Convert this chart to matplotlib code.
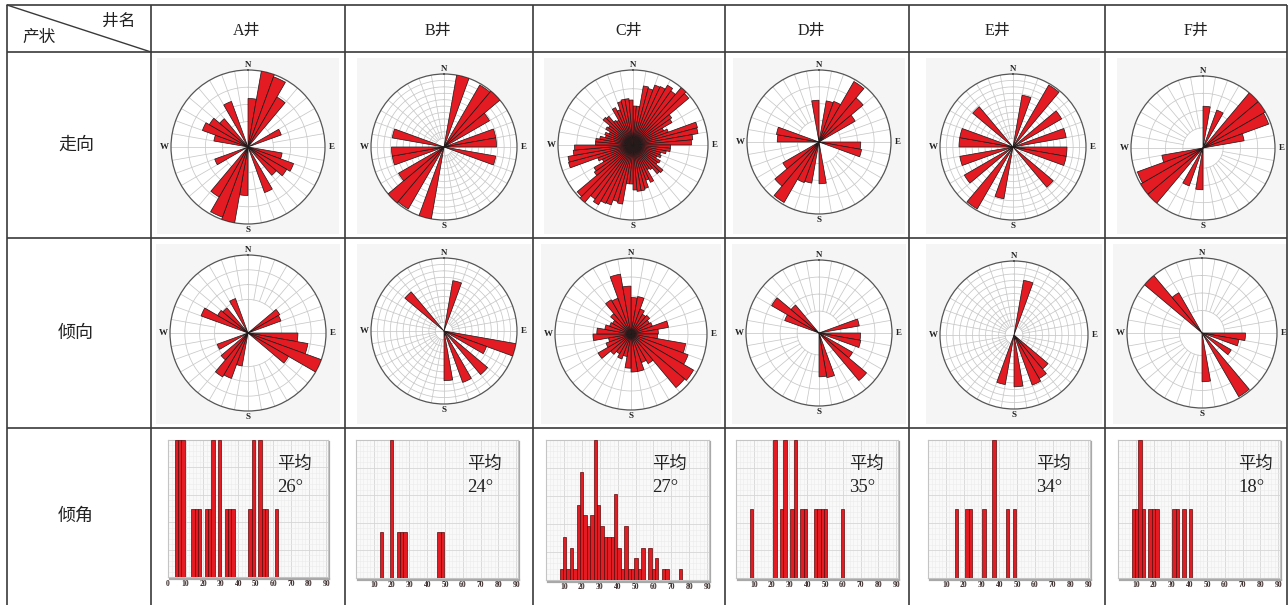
import numpy as np
import matplotlib
matplotlib.use('Agg')
import matplotlib.pyplot as plt
from matplotlib.patches import Rectangle

plt.rcParams['font.family'] = ['Liberation Serif', 'Noto Sans CJK SC']

# ---------------------------------------------------------------- data
headers = ['A井', 'B井', 'C井', 'D井', 'E井', 'F井']
row_names = ['走向', '倾向', '倾角']
mean_dip = [26, 24, 27, 35, 34, 18]

# strike roses: relative frequency per azimuth bin on 0-180°, mirrored onto 180-360°
strike_a = [0.63, 1.00, 0.97, 0.75, 0, 0, 0.46, 0, 0, 0, 0.45, 0.63, 0.58, 0.48, 0, 0.63, 0, 0]
strike_b = [0, 1.00, 0, 0.98, 1.00, 0.72, 0, 0.72, 0.72, 0, 0.72, 0, 0, 0, 0, 0, 0, 0]
strike_c = [0.52, 0.52, 0.80, 0.78, 0.85, 0.86, 0.92, 0.88, 1.00, 0.97,
            0.63, 0.60, 0.45, 0.50, 0.89, 0.88, 0.80, 0.78, 0.50, 0.50,
            0.45, 0.38, 0.40, 0.35, 0.42, 0.40, 0.52, 0.50, 0.40, 0.38,
            0.55, 0.50, 0.60, 0.62, 0.62, 0.60]
strike_d = [0, 0.58, 0.60, 0.97, 0.80, 0.58, 0, 0, 0, 0.58, 0.60, 0, 0, 0, 0, 0, 0, 0.58]
strike_e = [0, 0.72, 0, 0.98, 0, 0.77, 0, 0.74, 0, 0.74, 0.74, 0, 0, 0.72, 0, 0, 0, 0]
strike_f = [0.58, 0, 0.56, 0, 1.00, 1.00, 0.97, 0.58, 0, 0, 0, 0, 0, 0, 0, 0, 0, 0]
strike_sets = [strike_a, strike_b, strike_c, strike_d, strike_e, strike_f]

# dip-direction roses: relative frequency per 10° azimuth bin on 0-360°
dip_a = [0, 0, 0, 0, 0, 0.47, 0.45, 0, 0, 0.64,
         0.78, 1.00, 0.60, 0, 0, 0, 0, 0, 0, 0.43,
         0.62, 0.65, 0.45, 0, 0.42, 0, 0, 0, 0, 0.64,
         0.45, 0.42, 0, 0.47, 0, 0]
dip_b = [0, 0.70, 0, 0, 0, 0, 0, 0, 0, 0,
         1.00, 0.62, 0, 0.78, 0, 0.75, 0, 0.68, 0, 0,
         0, 0, 0, 0, 0, 0, 0, 0, 0, 0,
         0, 0.70, 0, 0, 0, 0]
dip_c = [0.48, 0.50, 0.35, 0.30, 0.32, 0.28, 0.30, 0.50, 0.36, 0.35,
         0.73, 0.80, 0.95, 0.92, 0.45, 0.40, 0.50, 0.50, 0.45, 0.30,
         0.35, 0.30, 0.35, 0.50, 0.35, 0.30, 0.50, 0.45, 0.35, 0.30,
         0.28, 0.35, 0.52, 0.50, 0.80, 0.63]
dip_d = [0, 0, 0, 0, 0, 0, 0, 0.56, 0, 0.57,
         0.58, 0, 0.53, 0.85, 0, 0, 0.62, 0.60, 0, 0,
         0, 0, 0, 0, 0, 0, 0, 0, 0, 0.50,
         0.75, 0.50, 0, 0, 0, 0]
dip_e = [0, 0.75, 0, 0, 0, 0, 0, 0, 0, 0,
         0, 0, 0, 0.60, 0.68, 0.72, 0, 0.70, 0, 0.68,
         0, 0, 0, 0, 0, 0, 0, 0, 0, 0,
         0, 0, 0, 0, 0, 0]
dip_f = [0, 0, 0, 0, 0, 0, 0, 0, 0, 0.58,
         0.50, 0, 0.45, 0, 0.98, 0, 0, 0.65, 0, 0,
         0, 0, 0, 0, 0, 0, 0, 0, 0, 0,
         0, 1.00, 0.62, 0, 0, 0]
dip_sets = [dip_a, dip_b, dip_c, dip_d, dip_e, dip_f]

# dip-angle histograms: bin start (degrees) and number of fractures
DIP_BIN = 1.9
angle_a = [3.8, 5.7, 7.6, 13.3, 15.2, 17.1, 20.9, 22.8, 24.7, 28.5, 32.3, 34.2, 36.1,
           45.6, 47.5, 51.3, 53.2, 55.1, 60.8]
count_a = [2, 2, 2, 1, 1, 1, 1, 1, 2, 2, 1, 1, 1, 1, 2, 2, 1, 1, 1]
angle_b = [13.3, 19.0, 22.8, 24.7, 26.6, 45.6, 47.5]
count_b = [1, 3, 1, 1, 1, 1, 1]
angle_c = [7.6, 9.5, 11.4, 13.3, 15.2, 17.1, 19.0, 20.9, 22.8, 24.7, 26.6, 28.5, 30.4,
           32.3, 34.2, 36.1, 38.0, 39.9, 41.8, 43.7, 45.6, 47.5, 49.4, 51.3, 53.2, 57.0,
           58.9, 60.8, 64.6, 66.5, 74.1]
count_c = [1, 4, 1, 3, 1, 7, 10, 6, 5, 6, 13, 7, 5, 4, 4, 4, 8, 3, 1, 5, 1, 1, 2, 1, 3, 3,
           1, 2, 1, 1, 1]
angle_d = [7.6, 20.9, 24.7, 26.6, 30.4, 32.3, 36.1, 38.0, 43.7, 45.6, 47.5, 49.4, 58.9]
count_d = [1, 2, 1, 2, 1, 2, 1, 1, 1, 1, 1, 1, 1]
angle_e = [15.2, 20.9, 22.8, 30.4, 36.1, 43.7, 47.5]
count_e = [1, 1, 1, 1, 2, 1, 1]
angle_f = [7.6, 9.5, 11.4, 13.3, 17.1, 19.0, 20.9, 30.4, 32.3, 36.1, 39.9]
count_f = [1, 1, 2, 1, 1, 1, 1, 1, 1, 1, 1]
hist_sets = [(angle_a, count_a), (angle_b, count_b), (angle_c, count_c),
             (angle_d, count_d), (angle_e, count_e), (angle_f, count_f)]

# ---------------------------------------------------------------- layout (pixels)
W, H = 1288, 605
RED = '#E41B23'
LINE = '#3a3a3a'
GRID = '#c8c8c8'

col_edges = [7, 151, 345, 533, 725, 909, 1105, 1287]
row_edges = [5, 52, 238, 428, 605]
header_pos = [247, 438, 629, 811, 997, 1196]

strike_geo = [(248, 147, 77), (444, 147, 73), (633, 145, 75),
              (819, 142, 72), (1013, 147, 73), (1203, 148, 72)]
dip_geo = [(248, 333, 78), (444, 331, 73), (631, 334, 76),
           (819, 333, 73), (1014, 335, 74), (1202, 333, 75)]
fine_grid = [False, True, False, False, True, False]
strike_inner = [0.33, 0.12, 0.25, 0.30, 0.12, 0.28]
dip_inner = [0.43, 0.12, 0.25, 0.30, 0.12, 0.30]

hist_box = [(168, 440, 328, 577), (356, 440, 518, 578), (546, 440, 709, 580),
            (736, 440, 898, 578), (928, 440, 1090, 578), (1118, 440, 1280, 578)]
mean_x = [277, 467, 652, 849, 1036, 1238]

fig = plt.figure(figsize=(W / 100, H / 100), dpi=100)
fig.patch.set_facecolor('white')

base = fig.add_axes([0, 0, 1, 1])
base.set_xlim(0, W)
base.set_ylim(H, 0)
base.axis('off')


def fig_box(x0, y0, x1, y1):
    return [x0 / W, 1 - y1 / H, (x1 - x0) / W, (y1 - y0) / H]


def fig_pt(x, y):
    return x / W, 1 - y / H


# ---------------------------------------------------------------- table frame
for x in col_edges:
    base.plot([x, x], [row_edges[0], H], color=LINE, lw=1.2, solid_capstyle='butt')
for y in row_edges[:-1]:
    base.plot([col_edges[0], col_edges[-1]], [y, y], color=LINE, lw=1.2, solid_capstyle='butt')
base.plot([col_edges[0], col_edges[1]], [row_edges[0], row_edges[1]], color=LINE, lw=1.0)
base.text(135, 22, '井名', ha='right', va='center', fontsize=12, color='#222')
base.text(22, 38, '产状', ha='left', va='center', fontsize=12, color='#222')

for x, name in zip(header_pos, headers):
    base.text(x, 31, name, ha='center', va='center', fontsize=11.5, color='#222')

for i, name in enumerate(row_names):
    yc = (row_edges[i + 1] + row_edges[i + 2]) / 2
    base.text(76, yc, name, ha='center', va='center', fontsize=13, color='#222')


# ---------------------------------------------------------------- rose diagrams
def draw_rose(cx, cy, R, values, symmetric, fine, inner, row_top, row_bottom):
    half = R + 14
    base.add_patch(Rectangle((cx - half, row_top + 6), 2 * half, row_bottom - row_top - 10,
                             facecolor='#f5f5f5', edgecolor='none', zorder=0))
    ax = fig.add_axes(fig_box(cx - R, cy - R, cx + R, cy + R), projection='polar')
    ax.set_theta_zero_location('N')
    ax.set_theta_direction(-1)
    ax.set_ylim(0, 1)
    ax.set_facecolor('white')
    ax.grid(False)
    ax.set_xticks([])
    ax.set_yticks([])
    ax.spines['polar'].set_color('#555555')
    ax.spines['polar'].set_linewidth(0.9)

    th = np.linspace(0, 2 * np.pi, 361)
    if fine:
        rings = np.arange(inner, 0.999, 0.088)
    else:
        rings = np.linspace(inner, 1.0, 4)[:-1]
    for r in rings:
        ax.plot(th, np.full_like(th, r), color=GRID, lw=0.55, zorder=1)
    for a in range(0, 360, 10):
        ax.plot([np.deg2rad(a)] * 2, [inner, 1], color=GRID, lw=0.55, zorder=1)
    for a in (0, 90, 180, 270):
        ax.plot([np.deg2rad(a)] * 2, [0, inner], color=GRID, lw=0.8, zorder=1)

    vals = list(values) + list(values) if symmetric else list(values)
    step = 360 / len(vals)
    centers = np.deg2rad(np.arange(len(vals)) * step + step / 2)
    keep = [i for i, v in enumerate(vals) if v > 0]
    ax.bar(centers[keep], [vals[i] for i in keep], width=np.deg2rad(step), bottom=0,
           color=RED, edgecolor='#1a1a1a', linewidth=0.5, zorder=3)

    lab = dict(ha='center', va='center', fontsize=6.5, fontweight='bold', color='#222')
    base.text(cx, cy - R - 5, 'N', **lab)
    base.text(cx, cy + R + 6, 'S', **lab)
    base.text(cx - R - 7, cy, 'W', **lab)
    base.text(cx + R + 7, cy, 'E', **lab)


for i in range(6):
    cx, cy, R = strike_geo[i]
    draw_rose(cx, cy, R, strike_sets[i], True, fine_grid[i], strike_inner[i],
              row_edges[1], row_edges[2])
    cx, cy, R = dip_geo[i]
    draw_rose(cx, cy, R, dip_sets[i], False, fine_grid[i], dip_inner[i],
              row_edges[2], row_edges[3])


# ---------------------------------------------------------------- dip-angle histograms
def draw_hist(box, angles, counts, mean_val, tx, show_zero):
    x0, y0, x1, y1 = box
    base.plot([x1 + 1.5, x1 + 1.5], [y0 + 2, y1 + 1.5], color='#a8a8a8', lw=1.6, zorder=1)
    base.plot([x0 + 2, x1 + 1.5], [y1 + 1.5, y1 + 1.5], color='#a8a8a8', lw=1.6, zorder=1)
    ax = fig.add_axes(fig_box(x0, y0, x1, y1))
    ymax = max(counts)
    ax.set_xlim(0, 91)
    ax.set_ylim(0, ymax)
    ax.set_facecolor('#f9f9f9')
    ax.set_xticks(np.arange(0, 91, 10))
    ax.set_xticks(np.arange(0, 91, 2), minor=True)
    ax.set_yticks(np.linspace(0, ymax, 6))
    ax.set_yticks(np.linspace(0, ymax, 26), minor=True)
    ax.grid(which='major', color='#d6d6d6', lw=0.6)
    ax.grid(which='minor', color='#ebebeb', lw=0.4)
    ax.set_axisbelow(True)
    ax.tick_params(which='both', length=0, labelsize=5.5, pad=2.5, labelleft=False,
                   labelcolor='#3a2a2a')
    labels = [str(v) for v in range(0, 91, 10)]
    if not show_zero:
        labels[0] = ''
    ax.set_xticklabels(labels, fontweight='bold')
    for s in ax.spines.values():
        s.set_color('#c4c4c4')
        s.set_linewidth(0.8)
    ax.bar(angles, counts, width=DIP_BIN, align='edge', color=RED,
           edgecolor='#5a0a0a', linewidth=0.5, zorder=3)
    fig.text(*fig_pt(tx, 465), '平均', ha='left', va='center', fontsize=12.5,
             color='#222', zorder=10)
    fig.text(*fig_pt(tx, 487), f'{mean_val}°', ha='left', va='center', fontsize=13.5,
             color='#222', zorder=10)


for i in range(6):
    ang, cnt = hist_sets[i]
    draw_hist(hist_box[i], ang, cnt, mean_dip[i], mean_x[i], i == 0)

fig.savefig('out.png', dpi=100, facecolor='white')
